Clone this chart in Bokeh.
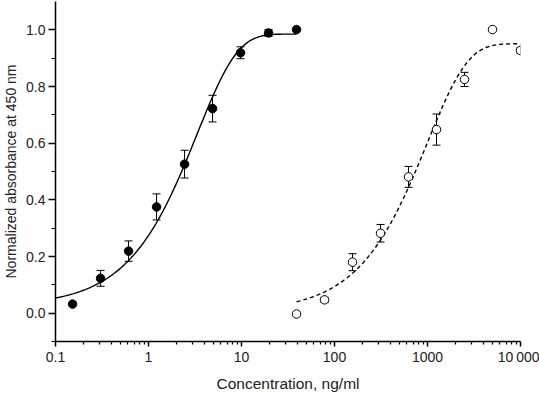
import numpy as np
from bokeh.plotting import figure
from bokeh.models import FixedTicker, Whisker, ColumnDataSource, TeeHead, PrintfTickFormatter, Range1d
from bokeh.embed import file_html
from bokeh.resources import INLINE

# Series A (filled circles)
conc_a = [0.1526, 0.3052, 0.6104, 1.2207, 2.4414, 4.8828, 9.7656, 19.531, 39.0625]
abs_a = [0.032, 0.123, 0.219, 0.375, 0.526, 0.722, 0.919, 0.989, 1.001]
err_a = [0.0, 0.028, 0.036, 0.046, 0.049, 0.047, 0.021, 0.012, 0.0]

# Series B (open circles)
conc_b = [39.0625, 78.125, 156.25, 312.5, 625, 1250, 2500, 5000, 10000]
abs_b = [-0.003, 0.047, 0.180, 0.282, 0.481, 0.648, 0.825, 1.001, 0.927]
err_b = [0.0, 0.009, 0.030, 0.031, 0.037, 0.055, 0.025, 0.0, 0.010]

# fitted curve parameters (exponential rise to plateau)
fit_a = {"top": 0.985, "amp": 0.96, "tau": 3.33, "xmin": 0.1, "xmax": 39.0625}
fit_b = {"top": 0.951, "amp": 0.947, "tau": 1000.0, "xmin": 39.0625, "xmax": 10000.0}

x_ticks = [0.1, 1, 10, 100, 1000, 10000]
x_tick_labels = ["0.1", "1", "10", "100", "1000", "10\u2009000"]
y_ticks = [0.0, 0.2, 0.4, 0.6, 0.8, 1.0]
y_minor = [-0.1, 0.1, 0.3, 0.5, 0.7, 0.9]

FONT = "Liberation Sans"
TXT = "#222222"

p = figure(width=539, height=394, x_axis_type="log",
           x_range=Range1d(0.1, 10000), y_range=Range1d(-0.1, 1.1),
           output_backend="svg", toolbar_location=None,
           min_border_left=54, min_border_right=19, min_border_top=1, min_border_bottom=52,
           x_axis_label="Concentration, ng/ml",
           y_axis_label="Normalized absorbance at 450 nm")
p.outline_line_color = None
p.xgrid.visible = False
p.ygrid.visible = False
p.background_fill_color = "white"
p.border_fill_color = "white"

def curve(f):
    xs = np.logspace(np.log10(f["xmin"]), np.log10(f["xmax"]), 200)
    ys = f["top"] - f["amp"] * np.exp(-xs / f["tau"])
    return xs, ys

xa, ya = curve(fit_a)
xb, yb = curve(fit_b)
p.line(xa, ya, line_color="black", line_width=1.4)
p.line(xb, yb, line_color="black", line_width=1.4, line_dash="4 3")

for conc, ab, er, filled in [(conc_a, abs_a, err_a, True), (conc_b, abs_b, err_b, False)]:
    idx = [i for i, e in enumerate(er) if e > 0]
    src = ColumnDataSource(dict(x=[conc[i] for i in idx],
                                up=[ab[i] + er[i] for i in idx],
                                lo=[ab[i] - er[i] for i in idx]))
    w = Whisker(source=src, base="x", upper="up", lower="lo", dimension="height",
                line_color="black", line_width=1,
                upper_head=TeeHead(size=8, line_color="black", line_width=1),
                lower_head=TeeHead(size=8, line_color="black", line_width=1))
    p.add_layout(w)
    if filled:
        p.scatter(conc, ab, size=8.5, marker="circle", fill_color="black", line_color="black")
    else:
        p.scatter(conc, ab, size=8.5, marker="circle", fill_color="white", line_color="black", line_width=1)

xa_ax = p.xaxis[0]
xa_ax.ticker = FixedTicker(ticks=x_ticks,
                           minor_ticks=[k * 10.0 ** e for e in range(-1, 4) for k in range(2, 10)])
xa_ax.major_label_overrides = {t: l for t, l in zip(x_ticks, x_tick_labels)}
ya_ax = p.yaxis[0]
ya_ax.ticker = FixedTicker(ticks=y_ticks, minor_ticks=y_minor)
ya_ax.formatter = PrintfTickFormatter(format="%.1f")

for ax in (xa_ax, ya_ax):
    ax.axis_line_width = 1.5
    ax.axis_line_color = "black"
    ax.major_tick_line_color = "black"
    ax.minor_tick_line_color = "black"
    ax.major_tick_line_width = 1.5
    ax.minor_tick_line_width = 1.2
    ax.major_tick_in = 0
    ax.minor_tick_in = 0
    ax.major_label_text_font = FONT
    ax.major_label_text_font_size = "14px"
    ax.major_label_text_color = TXT
    ax.axis_label_text_font = FONT
    ax.axis_label_text_font_style = "normal"
    ax.axis_label_text_color = TXT

xa_ax.axis_label_text_font_size = "15.5px"
ya_ax.axis_label_text_font_size = "14px"
xa_ax.major_tick_out = 5
xa_ax.minor_tick_out = 3
xa_ax.major_label_standoff = 2
xa_ax.axis_label_standoff = 7
ya_ax.major_tick_out = 7
ya_ax.minor_tick_out = 4
ya_ax.major_label_standoff = 3
ya_ax.axis_label_standoff = 4

open("out.html", "w").write(file_html(p, INLINE))
